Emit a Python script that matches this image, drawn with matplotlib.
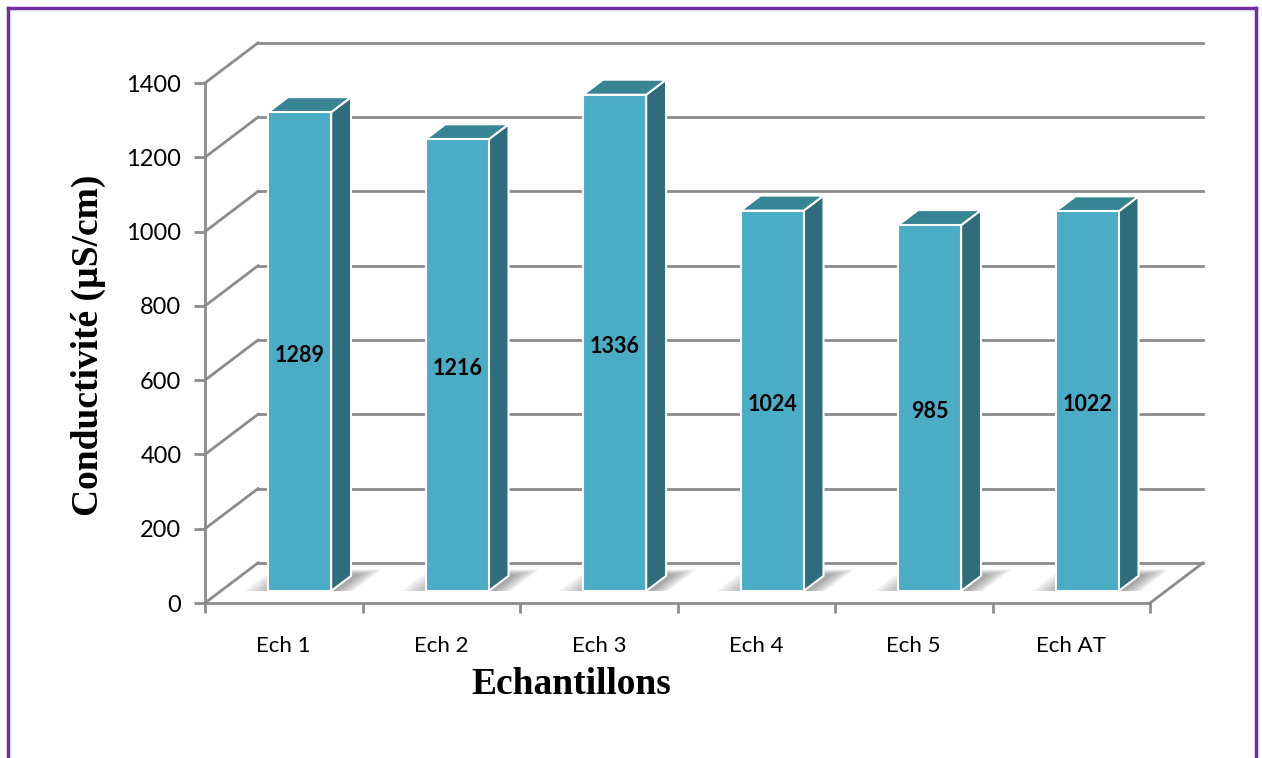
import matplotlib.pyplot as plt
from matplotlib.patches import Polygon

categories = ["Ech 1", "Ech 2", "Ech 3", "Ech 4", "Ech 5", "Ech AT"]
values = [1289, 1216, 1336, 1024, 985, 1022]
yticks = [0, 200, 400, 600, 800, 1000, 1200, 1400]

front_c = "#4BACC6"
side_c = "#2F6C7C"
top_c = "#378495"
grid_c = "#8C8C8C"

# depth of the 3d box in data units (x in categories, y in value units)
DX = 0.3365
DY = 108
d0, d1 = 0.30, 0.675   # bar front / back as fraction of depth
bw = 0.4

fig = plt.figure(figsize=(12.62, 7.58), dpi=100)
ax = fig.add_axes([205 / 1262, (758 - 603) / 758, 945 / 1262, 520 / 758])
ax.set_xlim(0, len(categories))
ax.set_ylim(0, 1400)


def fp(x, d, y=0):
    # point at floor depth fraction d
    return (x + d * DX, y + d * DY)


# back wall gridlines + left wall diagonals
for v in yticks:
    ax.plot([DX, len(categories) + DX], [v + DY, v + DY], color=grid_c, lw=2, clip_on=False, zorder=1)
    ax.plot([0, DX], [v, v + DY], color=grid_c, lw=2, clip_on=False, zorder=1)
# right floor edge
ax.plot([len(categories), len(categories) + DX], [0, DY], color=grid_c, lw=2, clip_on=False, zorder=1)

# bars
for i, v in enumerate(values):
    x0 = i + (1 - bw) / 2
    x1 = x0 + bw
    # soft shadow on floor, darker towards the bar
    for k in range(8):
        g = 0.015 * k
        sh = [fp(x0 - 0.15 + g * 1.7, d0), fp(x1 + 0.14 - g, d0),
              fp(x1 + 0.14 - g, d1 + 0.16 - g * 1.2), fp(x0 - 0.15 + g * 1.7, d1 + 0.16 - g * 1.2)]
        ax.add_patch(Polygon(sh, closed=True, facecolor="#404040", edgecolor="none",
                             alpha=0.07, clip_on=False, zorder=2))
    dxb = (d1 - d0) * DX
    dyb = (d1 - d0) * DY
    bx0, by0 = fp(x0, d0)
    bx1 = bx0 + bw
    front = [(bx0, by0), (bx1, by0), (bx1, by0 + v), (bx0, by0 + v)]
    side = [(bx1, by0), (bx1 + dxb, by0 + dyb), (bx1 + dxb, by0 + dyb + v), (bx1, by0 + v)]
    top = [(bx0, by0 + v), (bx1, by0 + v), (bx1 + dxb, by0 + v + dyb), (bx0 + dxb, by0 + v + dyb)]
    for pts, c in [(side, side_c), (top, top_c), (front, front_c)]:
        ax.add_patch(Polygon(pts, closed=True, facecolor=c, edgecolor="white", lw=1.5,
                             joinstyle="round", clip_on=False, zorder=3))
    ax.text(bx0 + bw / 2, by0 + v / 2 - 10, str(v), ha="center", va="center",
            fontsize=15.5, fontweight="bold", family="Lato", zorder=4)

# front axes
for s in ["top", "right"]:
    ax.spines[s].set_visible(False)
for s in ["left", "bottom"]:
    ax.spines[s].set_color(grid_c)
    ax.spines[s].set_linewidth(2)
ax.set_yticks(yticks)
ax.set_yticklabels([str(t) for t in yticks], fontsize=17, family="Lato")
ax.tick_params(axis="y", length=8, width=2, color=grid_c, pad=9)
ax.set_xticks(range(len(categories) + 1))
ax.set_xticklabels([])
ax.tick_params(axis="x", which="major", length=7, width=2, color=grid_c)
ax.set_xticks([i + 0.5 for i in range(len(categories))], minor=True)
ax.set_xticklabels(categories, minor=True, fontsize=16, family="Lato")
ax.tick_params(axis="x", which="minor", length=0, pad=24)

fig.text(88 / 1262, 1 - 345 / 758, "Conductivité (µS/cm)", rotation=90, ha="center", va="center",
         fontsize=27, fontweight="bold", family="Liberation Serif")
fig.text(571 / 1262, 1 - 684 / 758, "Echantillons", ha="center", va="center",
         fontsize=27, fontweight="bold", family="Liberation Serif")

# purple frame (open at bottom)
frame_c = "#7030A0"
fig.add_artist(plt.Line2D([8 / 1262, 8 / 1262], [0, 1 - 8 / 758], color=frame_c, lw=2.5))
fig.add_artist(plt.Line2D([8 / 1262, 1256 / 1262], [1 - 8 / 758, 1 - 8 / 758], color=frame_c, lw=2.5))
fig.add_artist(plt.Line2D([1256 / 1262, 1256 / 1262], [0, 1 - 8 / 758], color=frame_c, lw=2.5))

fig.savefig("out.png", dpi=100)
